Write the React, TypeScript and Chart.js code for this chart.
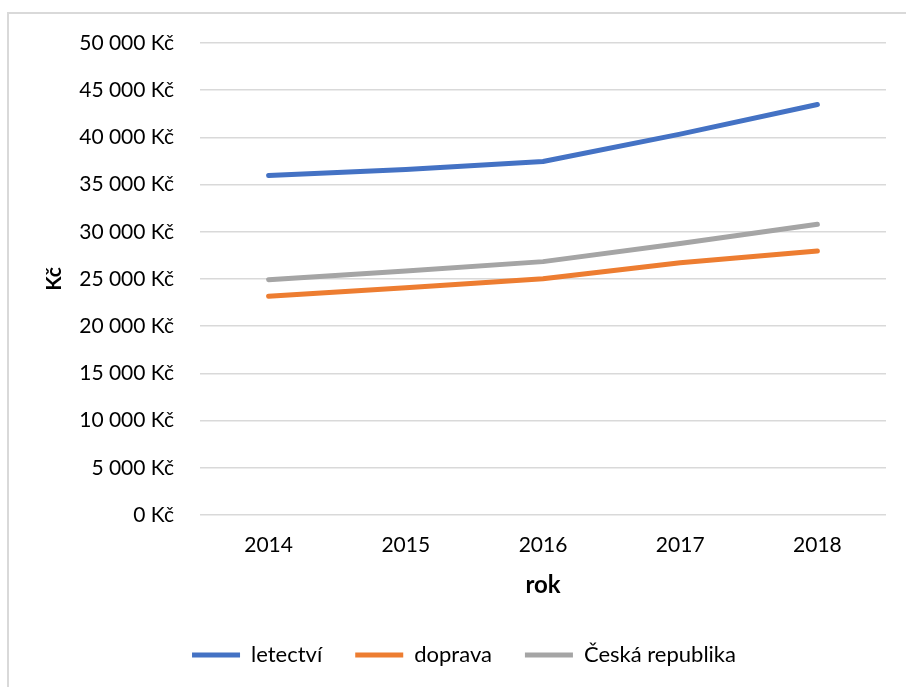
import React, { useEffect, useRef } from "react";
import { Chart, registerables } from "chart.js";

Chart.register(...registerables);

const years = ["2014", "2015", "2016", "2017", "2018"];
const letectvi = [35960, 36590, 37440, 40350, 43490];
const doprava = [23170, 24080, 25030, 26730, 27970];
const ceskaRepublika = [24930, 25850, 26840, 28750, 30800];

const yTicksMin = 0;
const yTicksMax = 50000;
const yTicksStep = 5000;

const FONT = "Lato, 'Open Sans', sans-serif";

function formatKc(v: number): string {
  return String(v).replace(/\B(?=(\d{3})+(?!\d))/g, " ") + " Kč";
}

function lineDataset(label: string, data: number[], color: string) {
  return {
    label,
    data,
    borderColor: color,
    backgroundColor: color,
    borderWidth: 5,
    borderCapStyle: "round" as const,
    borderJoinStyle: "round" as const,
    pointRadius: 0,
    pointHoverRadius: 0,
    tension: 0,
  };
}

export default function App() {
  const ref = useRef<HTMLCanvasElement | null>(null);

  useEffect(() => {
    if (!ref.current) return;
    const chart = new Chart(ref.current, {
      type: "line",
      data: {
        labels: years,
        datasets: [
          lineDataset("letectví", letectvi, "#4472C4"),
          lineDataset("doprava", doprava, "#ED7D31"),
          lineDataset("Česká republika", ceskaRepublika, "#A5A5A5"),
        ],
      },
      options: {
        animation: false,
        responsive: false,
        maintainAspectRatio: false,
        layout: { padding: { top: 29, right: 33, left: 33, bottom: 11 } },
        plugins: {
          tooltip: { enabled: false },
          legend: {
            position: "bottom",
            labels: {
              usePointStyle: true,
              pointStyle: "line",
              pointStyleWidth: 48,
              padding: 33,
              color: "#000",
              font: { family: FONT, size: 22 },
            },
          },
        },
        scales: {
          x: {
            offset: true,
            grid: { display: false, drawTicks: false },
            border: { display: false },
            ticks: { color: "#000", font: { family: FONT, size: 21 }, padding: 18 },
            title: {
              display: true,
              text: "rok",
              color: "#000",
              font: { family: FONT, size: 24, weight: "bold" },
              padding: { top: -5, bottom: 11 },
            },
          },
          y: {
            min: yTicksMin,
            max: yTicksMax,
            ticks: {
              stepSize: yTicksStep,
              color: "#000",
              font: { family: FONT, size: 21 },
              padding: 26,
              callback: (v: any) => formatKc(Number(v)),
            },
            grid: { color: "#D9D9D9", lineWidth: 1.5, drawTicks: false },
            border: { display: false },
            title: {
              display: true,
              text: "Kč",
              color: "#000",
              font: { family: FONT, size: 21, weight: "bold" },
              padding: { top: 0, bottom: 0 },
            },
            afterFit: (scale: any) => {
              scale.width = 158;
              scale.paddingTop = 0;
              scale.paddingBottom = 0;
            },
          },
        },
      },
    });
    return () => chart.destroy();
  }, []);

  return (
    <div
      style={{
        position: "absolute",
        left: 7,
        top: 12,
        width: 897,
        height: 673,
        overflow: "hidden",
        borderLeft: "2px solid #D9D9D9",
        borderTop: "2px solid #D9D9D9",
        background: "#fff",
      }}
    >
      <canvas ref={ref} width={910} height={673} style={{ display: "block" }} />
    </div>
  );
}
